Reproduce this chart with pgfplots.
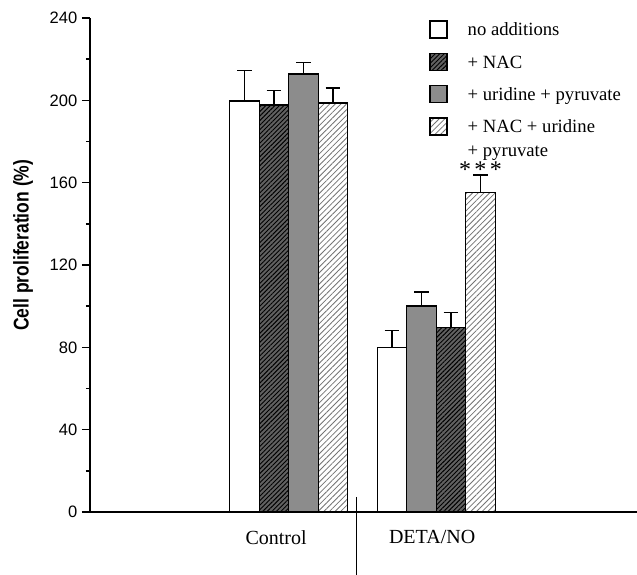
\documentclass[border=0pt]{standalone}
\usepackage{fontspec}
\setmainfont{Liberation Serif}
\setsansfont{Liberation Sans}
\newfontfamily\ylabfont[FakeStretch=0.82]{Liberation Sans Bold}
\usepackage{pgfplots}
\pgfplotsset{compat=1.18}
\usetikzlibrary{patterns,patterns.meta}
\begin{document}
\begin{tikzpicture}
\path[use as bounding box] (-67.5pt,-47.25pt) rectangle (410.25pt,384pt);
\begin{axis}[
  scale only axis, width=410.25pt, height=370.5pt,
  xmin=-4.237, xmax=14.305, ymin=0, ymax=240,
  clip=false,
  axis lines*=left,
  axis line style={line width=1.1pt},
  ytick={0,40,...,240}, minor y tick num=1,
  tick align=outside, major tick length=6pt, minor tick length=3pt,
  tick style={line width=1.1pt, black},
  xtick style={draw=none},
  /pgf/number format/assume math mode=true,
  y tick label style={font=\sffamily\fontsize{12.4}{13}\selectfont},
  xtick={2.07,7.36}, xticklabels={Control, DETA/NO},
  x tick label style={font=\rmfamily\fontsize{15}{15}\selectfont, yshift=-4.2pt},
  ylabel={Cell proliferation (\%)},
  every axis y label/.style={at={(axis description cs:-0.1225,0.54)}, rotate=90, anchor=center,
    font=\ylabfont\fontsize{16}{17}\selectfont},
  mybar/.style={ybar, bar width=1, bar shift=0pt, draw=black, line width=1.1pt},
  error bars/y dir=plus, error bars/y explicit,
  error bars/error bar style={line width=1.1pt, solid, black},
  error bars/error mark options={rotate=90, mark size=5.5pt, line width=1.1pt, black},
  legend style={at={(axis description cs:0.6197,0.996)}, anchor=north west, draw=none, fill=none,
    inner sep=0pt, row sep=9pt, column sep=15pt,
    font=\rmfamily\fontsize{14}{18}\selectfont,
    nodes={inner sep=0pt, text height=10pt, text depth=3.5pt},
    cells={anchor=base west}},
  legend image code/.code={\draw[#1, line width=1.1pt] (0pt,-1.6pt) rectangle (12.75pt,11.15pt);},
]
\addplot[mybar, fill=white] coordinates {(1,199.6) +- (0,14.8) (6,79.8) +- (0,8.3)};
\addlegendentry{no additions}
\addplot[mybar, fill=black!62, postaction={pattern={Lines[angle=45,distance=2.4pt,line width=0.7pt]}, pattern color=black}]
  coordinates {(2,197.8) +- (0,7.1) (8,89.7) +- (0,7.2)};
\addlegendentry{+ NAC}
\addplot[mybar, fill=black!45] coordinates {(3,212.8) +- (0,5.5) (7,100.1) +- (0,6.8)};
\addlegendentry{+ uridine + pyruvate}
\addplot[mybar, fill=white, postaction={pattern={Lines[angle=45,distance=3pt,line width=0.6pt]}, pattern color=black!55}]
  coordinates {(4,198.6) +- (0,7.3) (9,155.3) +- (0,8.4)};
\addlegendentry{\begin{tabular}[t]{@{}l@{}}+ NAC + uridine\\+ pyruvate\end{tabular}}
\draw[line width=1pt] (axis cs:4.8,7.3) -- (axis cs:4.8,-30.6);
\node[font=\rmfamily\fontsize{18}{18}\selectfont, anchor=base, inner sep=0pt] at (axis cs:9,162.3) {*\hspace{2.5pt}*\hspace{2.5pt}*};
\end{axis}
\end{tikzpicture}
\end{document}
